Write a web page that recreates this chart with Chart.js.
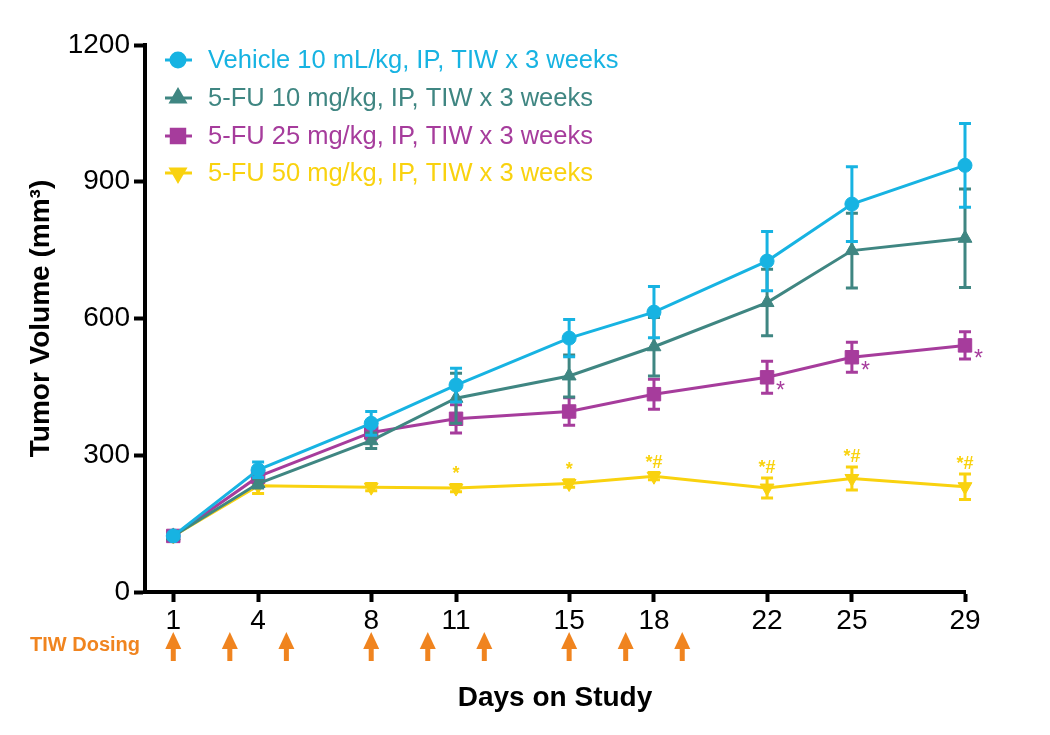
<!DOCTYPE html>
<html>
<head>
<meta charset="utf-8">
<script src="https://cdn.jsdelivr.net/npm/chart.js@4.4.1/dist/chart.umd.min.js"></script>
<style>
  html, body { margin: 0; padding: 0; background: #fff; }
</style>
</head>
<body>
<canvas id="chart" width="1050" height="735"></canvas>
<script>
const days = [1, 4, 8, 11, 15, 18, 22, 25, 29];
const dayTicks = [1, 4, 8, 11, 15, 18, 22, 25, 29];
const volumeTicks = [0, 300, 600, 900, 1200];
const dosingDays = [1, 3, 5, 8, 10, 12, 15, 17, 19];

const seriesLabels = [
  "Vehicle 10 mL/kg, IP, TIW x 3 weeks",
  "5-FU 10 mg/kg, IP, TIW x 3 weeks",
  "5-FU 25 mg/kg, IP, TIW x 3 weeks",
  "5-FU 50 mg/kg, IP, TIW x 3 weeks",
];
const vehicleMean = [123, 268, 370, 454, 557, 614, 726, 851, 936];
const vehicleSem = [3, 17, 26, 37, 41, 56, 65, 82, 92];
const fu10Mean = [123, 238, 332, 425, 474, 538, 635, 749, 776];
const fu10Sem = [3, 10, 17, 55, 46, 64, 73, 82, 108];
const fu25Mean = [123, 253, 350, 380, 396, 434, 471, 515, 541];
const fu25Sem = [3, 12, 15, 31, 30, 33, 35, 33, 30];
const fu50Mean = [123, 233, 230, 228, 238, 254, 228, 249, 231];
const fu50Sem = [3, 17, 8, 8, 8, 8, 22, 25, 28];

// significance marks: series index, day, text
const sigMarks = [
  { series: 3, day: 11, text: "*" },
  { series: 3, day: 15, text: "*" },
  { series: 3, day: 18, text: "*#" },
  { series: 3, day: 22, text: "*#" },
  { series: 3, day: 25, text: "*#" },
  { series: 3, day: 29, text: "*#" },
  { series: 2, day: 22, text: "*" },
  { series: 2, day: 25, text: "*" },
  { series: 2, day: 29, text: "*" },
];

const colors = ["#17b3e2", "#3f8682", "#a63c9c", "#f9d20f"];
const orange = "#f0841f";
const FONT = "'Liberation Sans', Arial, sans-serif";

const toPoints = (ys) => days.map((d, i) => ({ x: d, y: ys[i] }));

const styles = [
  { pointStyle: "circle", pointRadius: 7, rotation: 0 },
  { pointStyle: "triangle", pointRadius: 8, rotation: 0 },
  { pointStyle: "rect", pointRadius: 9.5, rotation: 0 },
  { pointStyle: "triangle", pointRadius: 8, rotation: 180 },
];
const means = [vehicleMean, fu10Mean, fu25Mean, fu50Mean];
const sems = [vehicleSem, fu10Sem, fu25Sem, fu50Sem];

const datasets = seriesLabels.map((label, i) => ({
  label: label,
  data: toPoints(means[i]),
  errors: sems[i],
  borderColor: colors[i],
  backgroundColor: colors[i],
  pointBackgroundColor: colors[i],
  pointBorderColor: colors[i],
  pointBorderWidth: 1,
  pointStyle: styles[i].pointStyle,
  pointRadius: styles[i].pointRadius,
  pointRotation: styles[i].rotation,
  borderWidth: 3,
  tension: 0,
  clip: false,
}));

const errorBars = {
  id: "errorBars",
  beforeDatasetDraw(chart, args) {
    const ds = chart.data.datasets[args.index];
    const { x, y } = chart.scales;
    const c = chart.ctx;
    c.save();
    c.strokeStyle = ds.borderColor;
    c.lineWidth = 3;
    ds.data.forEach((p, i) => {
      const px = x.getPixelForValue(p.x);
      const top = y.getPixelForValue(p.y + ds.errors[i]);
      const bot = y.getPixelForValue(p.y - ds.errors[i]);
      c.beginPath();
      c.moveTo(px, top);
      c.lineTo(px, bot);
      c.moveTo(px - 6, top);
      c.lineTo(px + 6, top);
      c.moveTo(px - 6, bot);
      c.lineTo(px + 6, bot);
      c.stroke();
    });
    c.restore();
  },
};

const sigLabels = {
  id: "sigLabels",
  afterDatasetsDraw(chart) {
    const { x, y } = chart.scales;
    const c = chart.ctx;
    c.save();
    sigMarks.forEach((m) => {
      const i = days.indexOf(m.day);
      const mean = means[m.series][i];
      const px = x.getPixelForValue(m.day);
      c.fillStyle = colors[m.series];
      c.textBaseline = "alphabetic";
      if (m.series === 3) {
        const top = y.getPixelForValue(mean + sems[m.series][i]);
        c.font = "bold 18px " + FONT;
        c.textAlign = "center";
        c.fillText(m.text, px, top - 5);
      } else {
        const py = y.getPixelForValue(mean);
        c.font = "23px " + FONT;
        c.textAlign = "left";
        c.fillText(m.text, px + 9, py + 21);
      }
    });
    c.restore();
  },
};

const legendRows = [60, 98, 136, 173];
const legendBox = {
  id: "legendBox",
  afterDraw(chart) {
    const c = chart.ctx;
    c.save();
    chart.data.datasets.forEach((ds, i) => {
      const ry = legendRows[i];
      c.strokeStyle = ds.borderColor;
      c.fillStyle = ds.borderColor;
      c.lineWidth = 3;
      c.beginPath();
      c.moveTo(165, ry);
      c.lineTo(192, ry);
      c.stroke();
      Chart.helpers.drawPoint(c, {
        pointStyle: ds.pointStyle,
        radius: ds.pointRadius,
        rotation: ds.pointRotation,
        borderWidth: 1,
      }, 178, ry);
      c.font = "25.5px " + FONT;
      c.textAlign = "left";
      c.textBaseline = "middle";
      c.fillText(ds.label, 208, ry + 1);
    });
    c.restore();
  },
};

const dosing = {
  id: "dosing",
  afterDraw(chart) {
    const x = chart.scales.x;
    const c = chart.ctx;
    c.save();
    c.fillStyle = orange;
    dosingDays.forEach((d) => {
      const px = x.getPixelForValue(d);
      c.beginPath();
      c.moveTo(px, 632);
      c.lineTo(px - 8, 649);
      c.lineTo(px + 8, 649);
      c.closePath();
      c.fill();
      c.fillRect(px - 2.5, 646, 5, 15);
    });
    c.font = "bold 20px " + FONT;
    c.textAlign = "right";
    c.textBaseline = "middle";
    c.fillText("TIW Dosing", 140, 645);
    c.restore();
  },
};

const tickFont = { family: FONT, size: 28 };

new Chart(document.getElementById("chart"), {
  type: "line",
  data: { datasets: datasets },
  options: {
    responsive: false,
    animation: false,
    events: [],
    layout: { padding: { top: 45, right: 85, left: 0, bottom: 0 } },
    plugins: {
      legend: { display: false },
      tooltip: { enabled: false },
    },
    scales: {
      x: {
        type: "linear",
        min: 0,
        max: 29,
        afterBuildTicks: (s) => {
          s.ticks = dayTicks.map((v) => ({ value: v }));
        },
        afterFit: (s) => {
          s.height = 143;
        },
        grid: {
          drawOnChartArea: false,
          drawTicks: true,
          tickLength: 10,
          tickWidth: 4,
          tickColor: "#000",
        },
        border: { display: true, color: "#000", width: 4 },
        ticks: {
          color: "#000",
          font: tickFont,
          padding: 2,
          autoSkip: false,
          maxRotation: 0,
          callback: (v) => String(v),
        },
        title: {
          display: true,
          text: "Days on Study",
          color: "#000",
          font: { family: FONT, size: 28, weight: "bold" },
          padding: { top: 0, bottom: 20 },
        },
      },
      y: {
        min: 0,
        max: 1200,
        afterBuildTicks: (s) => {
          s.ticks = volumeTicks.map((v) => ({ value: v }));
        },
        afterFit: (s) => {
          s.width = 145;
        },
        grid: {
          drawOnChartArea: false,
          drawTicks: true,
          tickLength: 11,
          tickWidth: 4,
          tickColor: "#000",
        },
        border: { display: true, color: "#000", width: 4 },
        ticks: {
          color: "#000",
          font: tickFont,
          padding: 4,
          callback: (v) => String(v),
        },
        title: {
          display: true,
          text: "Tumor Volume (mm³)",
          color: "#000",
          font: { family: FONT, size: 28, weight: "bold" },
          padding: { top: 24, bottom: 0 },
        },
      },
    },
  },
  plugins: [errorBars, sigLabels, legendBox, dosing],
});
</script>
</body>
</html>
